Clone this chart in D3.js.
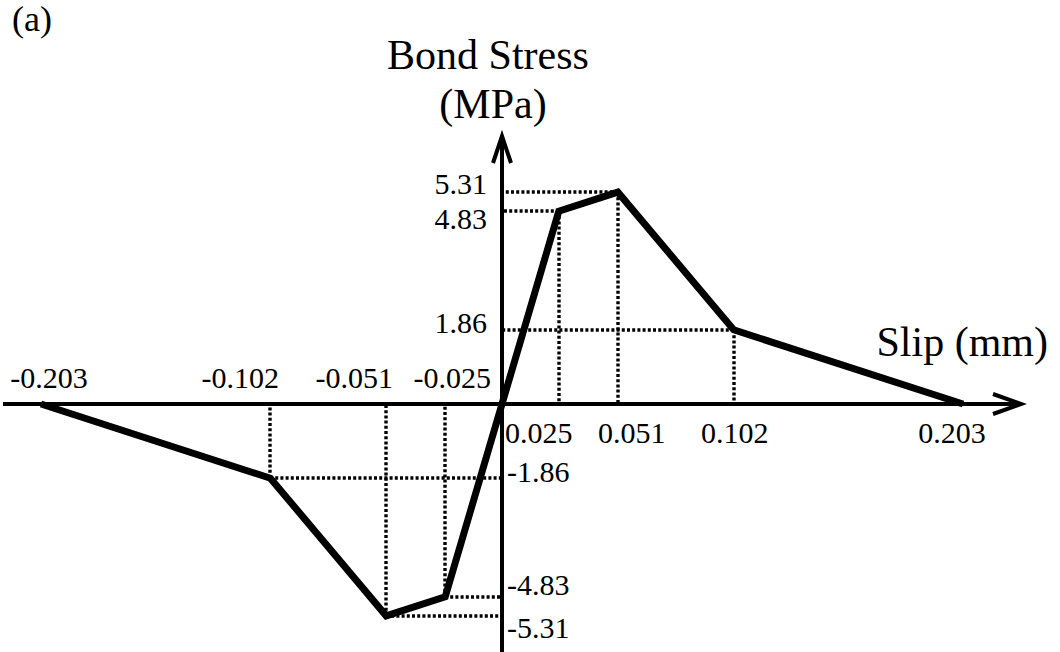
<!DOCTYPE html>
<html>
<head>
<meta charset="utf-8">
<script src="https://cdn.jsdelivr.net/npm/d3@7"></script>
<style>
  html, body { margin: 0; padding: 0; background: #fff; }
  svg { display: block; }
  text { font-family: "Liberation Serif", "Times New Roman", serif; fill: #000; }
</style>
</head>
<body>
<svg id="chart" width="1060" height="652"></svg>
<script>
// Bond stress - slip envelope (symmetric, piecewise linear)
const slip   = [-0.203, -0.102, -0.051, -0.025, 0, 0.025, 0.051, 0.102, 0.203];
const stress = [0, -1.86, -5.31, -4.83, 0, 4.83, 5.31, 1.86, 0];

// Labelled slip values on the horizontal axis
const slipTicksNeg = [-0.203, -0.102, -0.051, -0.025];
const slipTicksPos = [0.025, 0.051, 0.102, 0.203];
// Labelled stress values on the vertical axis
const stressTicksPos = [5.31, 4.83, 1.86];
const stressTicksNeg = [-1.86, -4.83, -5.31];

const svg = d3.select("#chart");
const W = 1060, H = 652;

const x = d3.scaleLinear().domain([-0.203, 0.203]).range([41, 963]);
const y = d3.scaleLinear().domain([-5.31, 5.31]).range([404 + 5.31 * 39.9, 404 - 5.31 * 39.9]);

const x0 = x(0), y0 = y(0);
const pts = slip.map((s, i) => ({ s, t: stress[i] }));

// plain hyphen for negatives
const locale = d3.formatLocale({ decimal: ".", thousands: ",", grouping: [3], currency: ["", ""], minus: "-" });
const fmt = locale.format(".3f");
const fmtS = locale.format(".2f");

// Dotted guide lines from each break point to both axes
const guides = svg.append("g")
  .attr("fill", "none")
  .attr("stroke", "#000")
  .attr("stroke-width", 3.4)
  .attr("stroke-dasharray", "3,2.2");

pts.filter(p => p.s !== 0 && p.t !== 0).forEach(p => {
  const px = Math.round(x(p.s)), py = Math.round(y(p.t));
  guides.append("line")
    .attr("x1", px).attr("y1", py)
    .attr("x2", x0).attr("y2", py);
  guides.append("line")
    .attr("x1", px).attr("y1", py)
    .attr("x2", px).attr("y2", y0);
});

// Axes with open arrow heads
const axes = svg.append("g")
  .attr("fill", "none")
  .attr("stroke", "#000")
  .attr("stroke-width", 4);

const xLeft = 3, xTip = 1021;
const yBottom = H, yTip = 136;

axes.append("line").attr("x1", xLeft).attr("y1", y0).attr("x2", xTip - 2).attr("y2", y0);
axes.append("path")
  .attr("stroke-linejoin", "miter")
  .attr("d", `M${xTip - 28},${y0 - 10}L${xTip},${y0}L${xTip - 28},${y0 + 10}`);

axes.append("line").attr("x1", x0).attr("y1", yBottom).attr("x2", x0).attr("y2", yTip + 2);
axes.append("path")
  .attr("stroke-linejoin", "miter")
  .attr("d", `M${x0 - 9},${yTip + 27}L${x0},${yTip}L${x0 + 9},${yTip + 27}`);

// Envelope curve
svg.append("path")
  .datum(pts)
  .attr("fill", "none")
  .attr("stroke", "#000")
  .attr("stroke-width", 7)
  .attr("stroke-linejoin", "miter")
  .attr("d", d3.line().x(d => x(d.s)).y(d => y(d.t)));

// Tick labels
const lbl = svg.append("g").attr("font-size", 30);

// nudges keep labels clear of the curve
const negDx = { "-0.203": 8, "-0.102": -30, "-0.051": -32, "-0.025": 7 };
slipTicksNeg.forEach(v => {
  lbl.append("text")
    .attr("x", x(v) + negDx[v])
    .attr("y", y0 - 16)
    .attr("text-anchor", "middle")
    .text(fmt(v));
});
const posDx = { "0.025": -20, "0.051": 14, "0.102": 1, "0.203": -11 };
slipTicksPos.forEach(v => {
  lbl.append("text")
    .attr("x", x(v) + posDx[v])
    .attr("y", y0 + 39)
    .attr("text-anchor", "middle")
    .text(fmt(v));
});

const posDy = { "5.31": 2, "4.83": 18, "1.86": 3 };
stressTicksPos.forEach(v => {
  lbl.append("text")
    .attr("x", x0 - 15)
    .attr("y", y(v) + posDy[v])
    .attr("text-anchor", "end")
    .text(fmtS(v));
});
const negDy = { "-1.86": 4, "-4.83": -2, "-5.31": 22 };
stressTicksNeg.forEach(v => {
  lbl.append("text")
    .attr("x", x0 + 5)
    .attr("y", y(v) + negDy[v])
    .attr("text-anchor", "start")
    .text(fmtS(v));
});

// Axis titles and panel tag
svg.append("text").attr("x", 488).attr("y", 69).attr("font-size", 42)
  .attr("text-anchor", "middle").text("Bond Stress");
svg.append("text").attr("x", 493).attr("y", 118).attr("font-size", 42)
  .attr("text-anchor", "middle").text("(MPa)");
svg.append("text").attr("x", 1048).attr("y", 356).attr("font-size", 42)
  .attr("text-anchor", "end").text("Slip (mm)");
svg.append("text").attr("x", 12).attr("y", 31).attr("font-size", 36)
  .text("(a)");
</script>
</body>
</html>
